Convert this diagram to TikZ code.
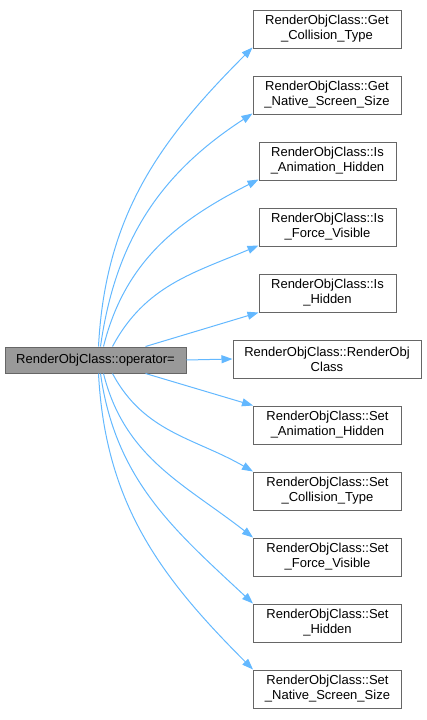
\documentclass[tikz,border=0pt]{standalone}
\usepackage{fontspec}
\setmainfont{Liberation Sans}
\usetikzlibrary{arrows.meta}
\definecolor{edgecol}{HTML}{63B8FF}
\definecolor{bordercol}{HTML}{666666}
\definecolor{opfill}{HTML}{999999}
\tikzset{
  rbox/.style={draw=bordercol, fill=white, line width=1pt, minimum width=148pt, minimum height=38pt,
    align=center, inner sep=0pt, font=\fontsize{13}{15}\selectfont},
  isbox/.style={rbox, minimum width=137pt},
  opbox/.style={draw=bordercol, fill=opfill, line width=1pt, minimum width=181pt, minimum height=26pt,
    inner sep=0pt, font=\fontsize{13}{15}\selectfont},
  edge/.style={draw=edgecol, line width=1pt, -{Triangle[length=11pt,width=8pt]}}
}
\begin{document}
\begin{tikzpicture}[x=1pt,y=-1pt]
\useasboundingbox (0,0) rectangle (426,720);
\node[opbox] (op) at (95.5,360) {RenderObjClass::operator=};
\node[rbox] (b1) at (327,29) {RenderObjClass::Get\\\_Collision\_Type};
\node[rbox] (b2) at (327,95) {RenderObjClass::Get\\\_Native\_Screen\_Size};
\node[isbox] (b3) at (327.5,161) {RenderObjClass::Is\\\_Animation\_Hidden};
\node[isbox] (b4) at (327.5,227) {RenderObjClass::Is\\\_Force\_Visible};
\node[isbox] (b5) at (327.5,293) {RenderObjClass::Is\\\_Hidden};
\node[rbox, minimum width=188pt] (b6) at (327,359) {RenderObjClass::RenderObj\\Class};
\node[rbox] (b7) at (327.5,425) {RenderObjClass::Set\\\_Animation\_Hidden};
\node[rbox] (b8) at (327.5,491) {RenderObjClass::Set\\\_Collision\_Type};
\node[rbox] (b9) at (327.5,557) {RenderObjClass::Set\\\_Force\_Visible};
\node[rbox] (b10) at (327.5,623) {RenderObjClass::Set\\\_Hidden};
\node[rbox] (b11) at (327.5,689) {RenderObjClass::Set\\\_Native\_Screen\_Size};

\draw[edge] ([xshift=3pt]op.north) to[out=87,in=225] ([yshift=1pt]b1.south west);
\draw[edge] ([xshift=5pt]op.north) to[out=82,in=213] ([yshift=1pt]b2.south west);
\draw[edge] ([xshift=8pt]op.north) to[out=76,in=207] ([yshift=1pt]b3.south west);
\draw[edge] ([xshift=17pt]op.north) to[out=62,in=203] ([yshift=1pt]b4.south west);
\draw[edge] ([xshift=50pt]op.north) -- (b5.south west);
\draw[edge] (op.east) -- (b6.west);
\draw[edge] ([xshift=50pt]op.south) -- (b7.north west);
\draw[edge] ([xshift=17pt]op.south) to[out=-62,in=150] (b8.north west);
\draw[edge] ([xshift=8pt]op.south) to[out=-76,in=142] (b9.north west);
\draw[edge] ([xshift=5pt]op.south) to[out=-82,in=137] (b10.north west);
\draw[edge] ([xshift=3pt]op.south) to[out=-87,in=135] (b11.north west);
\end{tikzpicture}
\end{document}
